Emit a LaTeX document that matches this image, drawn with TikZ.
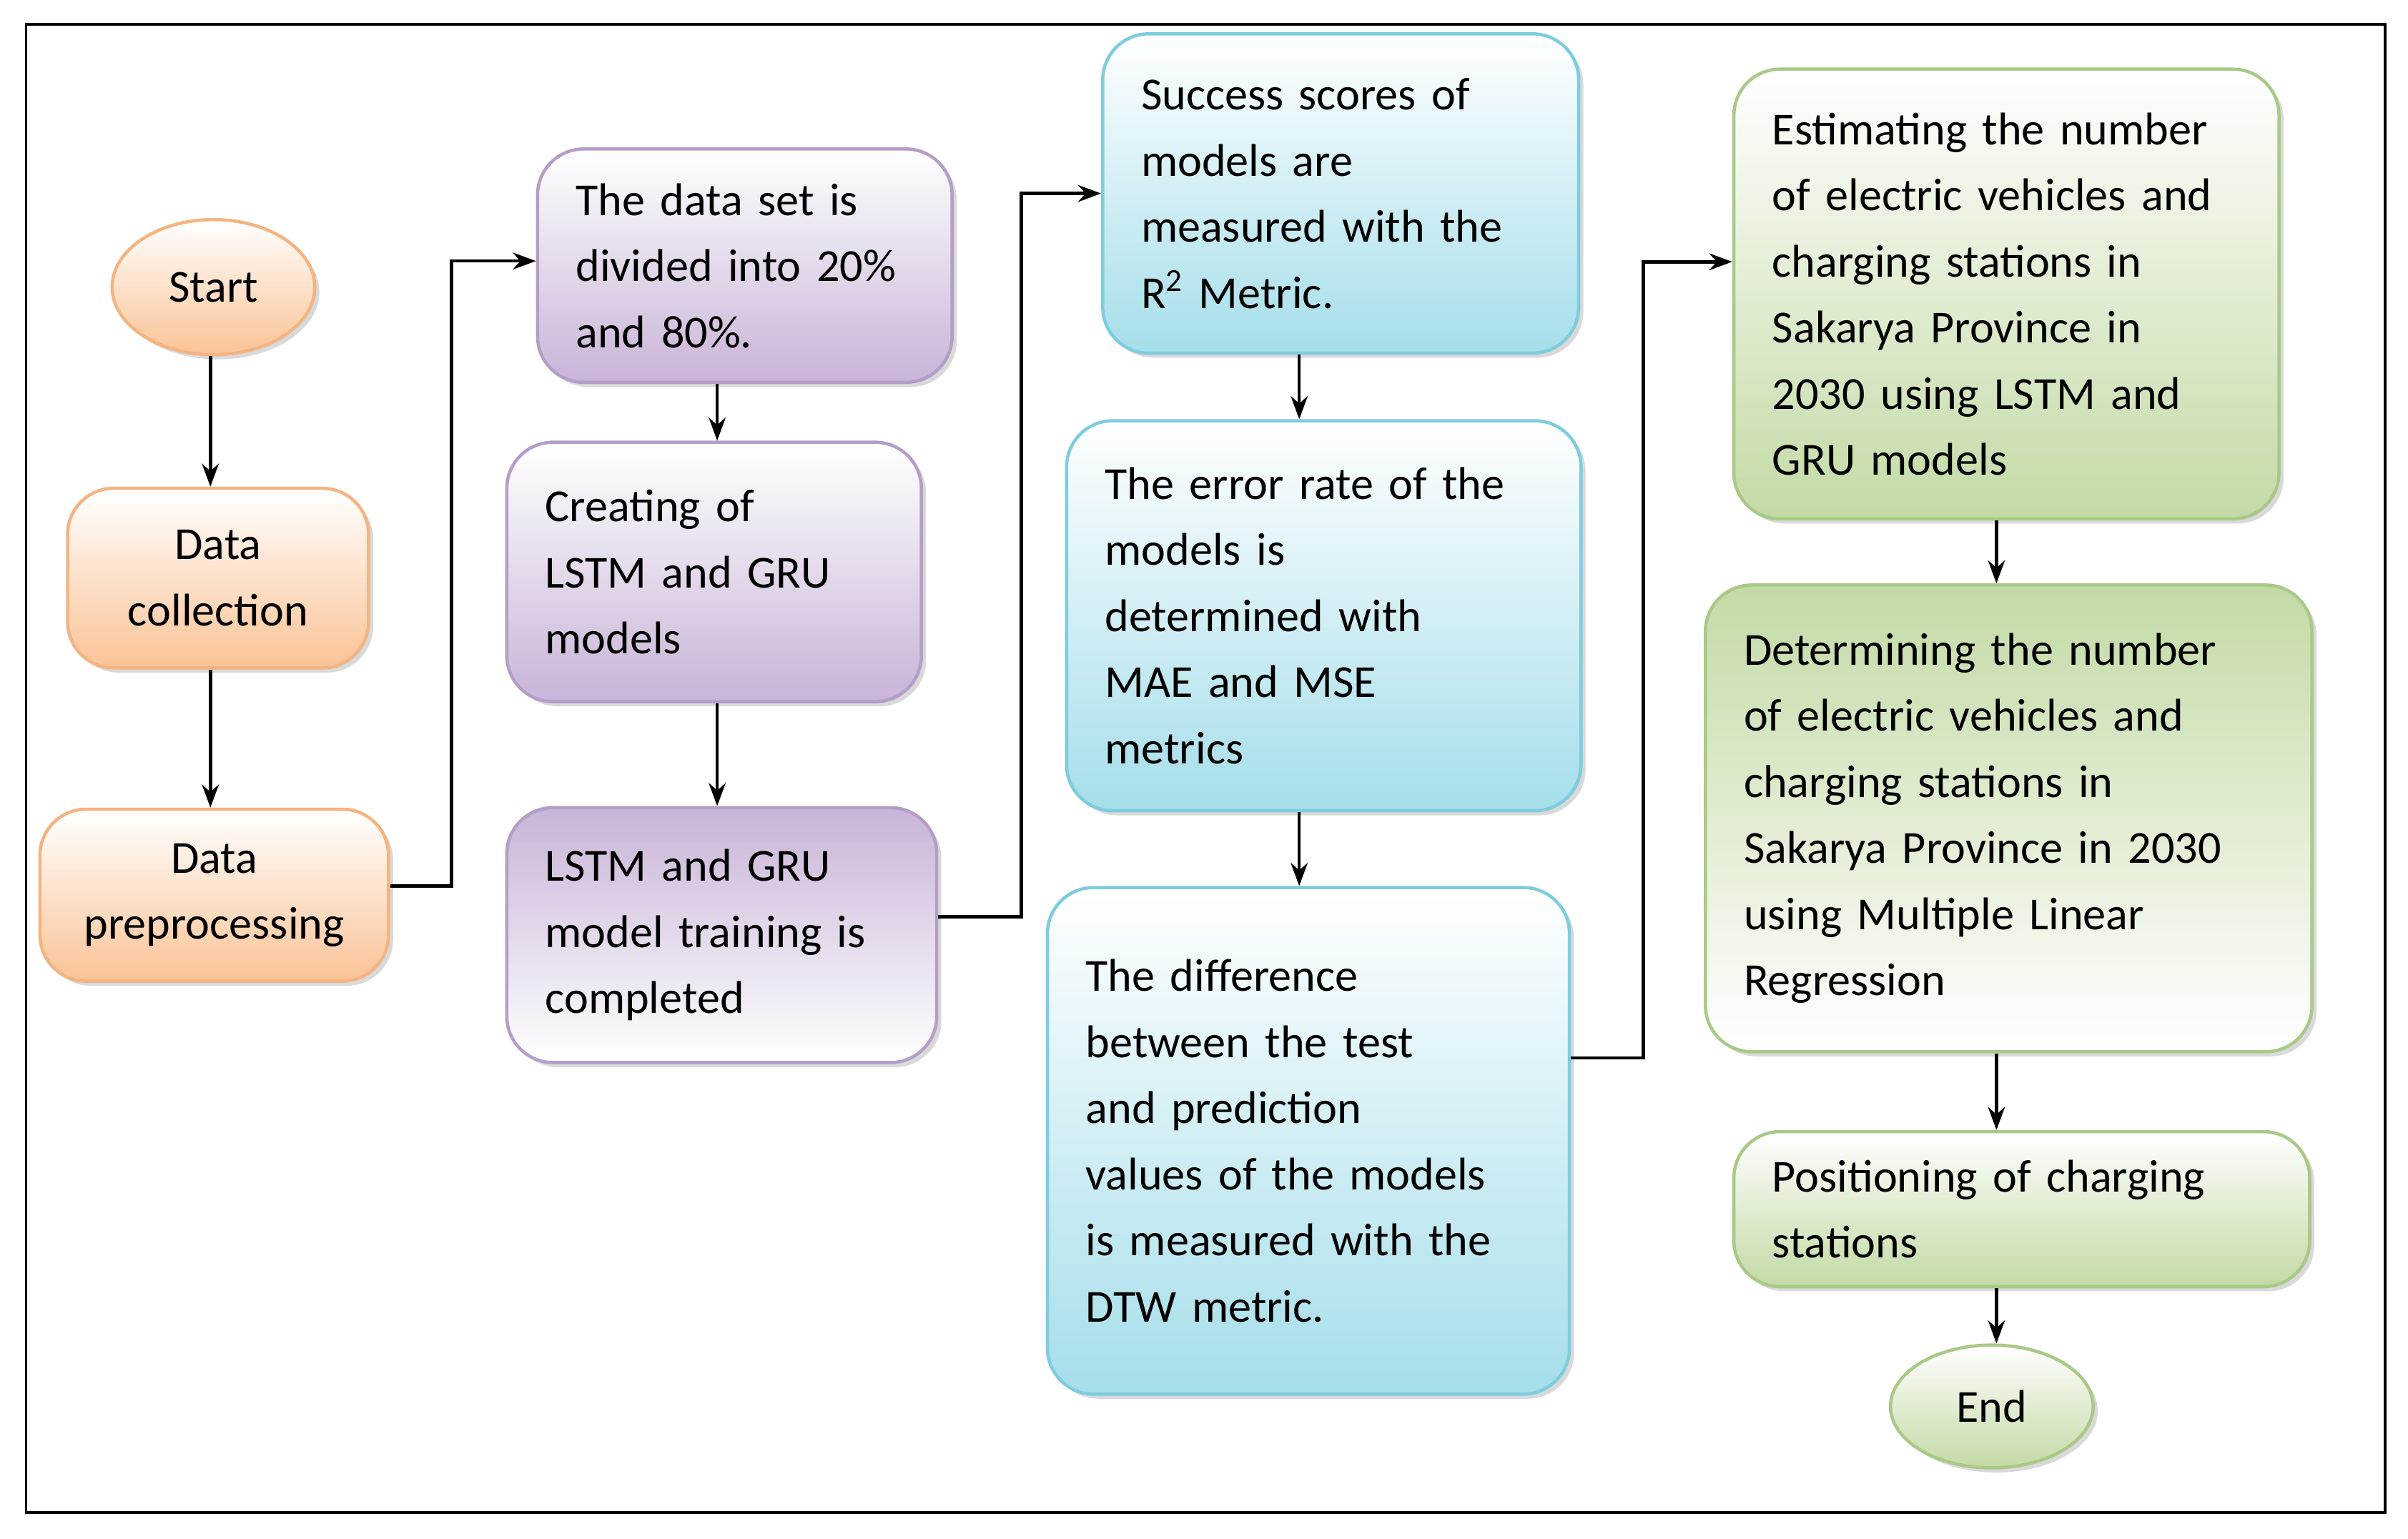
\documentclass[tikz,border=0pt]{standalone}
\usepackage{fontspec}
\setmainfont{Carlito}
\usetikzlibrary{shapes.geometric,arrows.meta,shadows}
\definecolor{orB}{RGB}{250,195,150}\definecolor{orD}{RGB}{244,180,130}
\definecolor{puB}{RGB}{200,180,215}\definecolor{puD}{RGB}{180,158,200}
\definecolor{blB}{RGB}{165,222,234}\definecolor{blD}{RGB}{125,205,222}
\definecolor{grB}{RGB}{195,218,165}\definecolor{grD}{RGB}{170,200,135}
\hyphenpenalty=10000
\exhyphenpenalty=10000
\begin{document}
\begin{tikzpicture}[x=0.02cm,y=-0.02cm,
 every node/.style={font=\fontsize{17}{24.5}\selectfont},
 bx/.style={rounded corners=0.6cm,line width=1.2pt,drop shadow={opacity=0.3,shadow xshift=0.06cm,shadow yshift=-0.06cm},align=left,inner xsep=0.5cm},
 org/.style={bx,draw=orD,top color=white,bottom color=orB,align=center},
 pur/.style={bx,draw=puD,top color=white,bottom color=puB},
 purd/.style={bx,draw=puD,top color=puB,bottom color=white},
 blu/.style={bx,draw=blD,top color=white,bottom color=blB},
 grn/.style={bx,draw=grD,top color=white,bottom color=grB},
 grnd/.style={bx,draw=grD,top color=grB,bottom color=white},
 ar/.style={-{Stealth[length=0.3cm,width=0.22cm]},line width=1.2pt}]
\useasboundingbox (0,0) rectangle (1568,1002);
\draw[line width=1pt] (17,16) rectangle (1553,985);
\coordinate (xa) at (137,0);
\coordinate (xb) at (467,0);
\coordinate (xc) at (846,0);
\coordinate (xd) at (1300,0);
\node[ellipse,org,minimum width=2.64cm,minimum height=1.76cm,inner xsep=0pt] (st) at (139,187) {Start};
\node[org,minimum width=3.92cm,minimum height=2.34cm] (dc) at (142,376.5) {Data\\collection};
\node[org,minimum width=4.54cm,minimum height=2.24cm] (dp) at (139.5,583) {Data\\preprocessing};
\node[pur,minimum width=5.32cm,minimum height=3.04cm,text width=4.4cm] (p1) at (485,173) {The data set is\\divided into 20\%\\and 80\%.};
\node[pur,minimum width=5.32cm,minimum height=3.38cm,text width=4.4cm] (p2) at (465,372.5) {Creating of\\LSTM and GRU\\models};
\node[purd,minimum width=5.52cm,minimum height=3.32cm,text width=4.6cm] (p3) at (470,609) {LSTM and GRU\\model training is\\completed};
\node[blu,minimum width=6.12cm,minimum height=4.16cm,text width=5.2cm] (b1) at (873,126) {Success scores of\\models are\\measured with the\\R\textsuperscript{2} Metric.};
\node[blu,minimum width=6.56cm,minimum height=5.08cm,text width=5.7cm] (b2) at (862,401) {The error rate of the\\models is\\determined with\\MAE and MSE\\metrics};
\node[blu,minimum width=6.72cm,minimum height=6.6cm,text width=5.8cm] (b3) at (852,743) {The difference\\between the test\\and prediction\\values of the models\\is measured with the\\DTW metric.};
\node[grn,minimum width=7.06cm,minimum height=5.86cm,text width=6.1cm] (g1) at (1306.5,191.5) {Estimating the number\\of electric vehicles and\\charging stations in\\Sakarya Province in\\2030 using LSTM and\\GRU models};
\node[grnd,minimum width=7.8cm,minimum height=6.08cm,text width=6.9cm] (g2) at (1308,533) {Determining the number\\of electric vehicles and\\charging stations in\\Sakarya Province in 2030\\using Multiple Linear\\Regression};
\node[grn,minimum width=7.46cm,minimum height=2.02cm,text width=6.5cm] (g3) at (1316.5,787.5) {Positioning of charging\\stations};
\node[ellipse,grn,minimum width=2.64cm,minimum height=1.6cm,inner xsep=0pt,align=center] (en) at (1297,916) {End};
\draw[ar] (xa |- st.south) -- (xa |- dc.north);
\draw[ar] (xa |- dc.south) -- (xa |- dp.north);
\draw[ar] ([yshift=0.12cm]dp.east) -- ++(40,0) |- ([yshift=0.06cm]p1.west);
\draw[ar] (xb |- p1.south) -- (xb |- p2.north);
\draw[ar] (xb |- p2.south) -- (xb |- p3.north);
\draw[ar] ([yshift=0.24cm]p3.east) -- ++(54,0) |- (b1.west);
\draw[ar] (xc |- b1.south) -- (xc |- b2.north);
\draw[ar] (xc |- b2.south) -- (xc |- b3.north);
\draw[ar] ([yshift=1.08cm]b3.east) -- ++(47,0) |- ([yshift=0.42cm]g1.west);
\draw[ar] (xd |- g1.south) -- (xd |- g2.north);
\draw[ar] (xd |- g2.south) -- (xd |- g3.north);
\draw[ar] (xd |- g3.south) -- (xd |- en.north);
\end{tikzpicture}
\end{document}
